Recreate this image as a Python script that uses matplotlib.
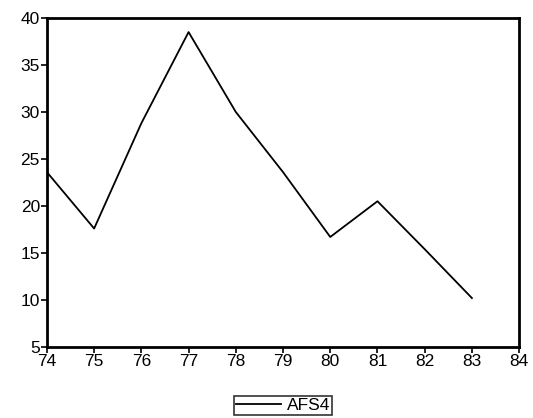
import matplotlib.pyplot as plt

years = [74, 75, 76, 77, 78, 79, 80, 81, 82, 83]
afs4 = [23.6, 17.6, 28.8, 38.5, 30.0, 23.6, 16.7, 20.5, 15.4, 10.2]

plt.rcParams['font.family'] = ['Liberation Sans', 'DejaVu Sans']

fig = plt.figure(figsize=(5.33, 4.18), dpi=100)
ax = fig.add_axes([0.088, 0.170, 0.886, 0.787])

ax.plot(years, afs4, color='black', linewidth=1.3, label='AFS4')

ax.set_xlim(74, 84)
ax.set_ylim(5, 40)
ax.set_xticks(range(74, 85))
ax.set_yticks(range(5, 41, 5))
ax.tick_params(direction='out', length=4, width=1.2, labelsize=12.5, pad=1)
for s in ax.spines.values():
    s.set_linewidth(2)

leg = ax.legend(loc='upper center', bbox_to_anchor=(0.5, -0.15), frameon=True,
                fancybox=False, edgecolor='black', fontsize=12.5, handlelength=2.6,
                borderpad=0.1, handletextpad=0.3, borderaxespad=0)
leg.get_frame().set_linewidth(1.2)

fig.savefig('out.png', dpi=100)
